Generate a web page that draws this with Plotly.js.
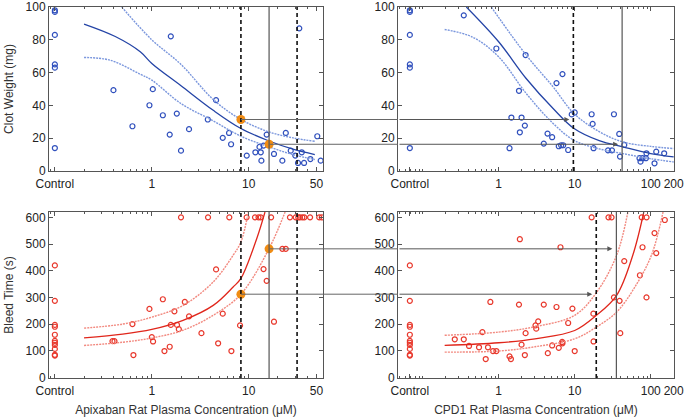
<!DOCTYPE html>
<html><head><meta charset="utf-8">
<script src="https://cdn.plot.ly/plotly-3.0.1.min.js"></script>
<style>html,body{margin:0;padding:0;background:#fff}#chart{width:685px;height:417px}</style>
</head><body><div id="chart"></div>
<script>
// ---------- data ----------
const apixCtrlX = 0.1;      // position of the "Control" group on the Apixaban axis
const cpdCtrlX = 0.068;     // position of the "Control" group on the CPD1 axis
const clotCtrl = [98, 97, 83, 65, 63, 14];
const bleedCtrl = [420, 287, 197, 190, 160, 137, 130, 122, 107, 85, 82];

const apixClotX = [0.402,0.631,0.945,1.024,1.30,1.57,1.53,1.81,2.00,2.42,3.78,4.60,5.39,6.26,6.57,9.53,11.7,12.9,13.3,13.5,14.2,15.3,18.2,22.2,24.1,27.1,30.2,32.2,33.2,35.2,37.2,43.2,50.9,55.2];
const apixClotY = [49.3,27.3,40.1,49.9,34,82.1,22.2,35,12.4,25.5,31.4,43.2,20.2,23.2,16.3,9.4,11.4,14.7,11.4,6.3,15.5,22.2,10.4,6.3,23.2,12.4,9.4,4.9,87,11.4,4.9,7.3,21.2,6.3];

const cpdClotX = [0.348,0.933,1.39,1.47,1.85,1.90,2.0,2.21,2.26,3.92,4.39,5.05,5.76,6.17,6.63,6.9,7.05,8.2,9.14,10.0,16.7,17.2,17.7,27.4,30.9,32.8,38.5,39.4,44.8,71.1,73.3,77.9,86.2,87.8,112,118,150];
const cpdClotY = [94.9,74.7,13.9,32.6,48.9,23.6,32.6,27.7,70.7,16.7,22.8,20.6,53.6,15.1,15.7,59.1,15.7,12.8,34.5,35.7,34.6,28.7,13.9,12.6,12.6,34.6,22.6,8.8,15.9,7.8,5.7,7.8,7.8,10.8,4.7,11.8,10.8];

const apixBleedX = [0.393,0.412,0.631,0.646,0.945,1.0,1.03,1.30,1.35,1.53,1.57,1.71,1.82,1.90,2.19,2.42,3.25,4.60,4.83,5.39,6.62,8.13,14.2,15.3,18.2,22.2,24.1,
  2.0,3.8,6.3,9.5,11.6,12.6,13.3,17.0,26.6,30.5,32.4,33.7,35.7,37.4,42.9,53.3,56.6];
const apixBleedY = [136,136,200,84,257,151,135,293,99,115,197,248,197,181,283,229,166,405,128,239,99,195,406,362,209,482,482,
  600,600,600,600,600,600,600,600,600,600,600,600,600,600,600,600,600];

const cpdBleedX = [0.265,0.348,0.408,0.552,0.611,0.676,0.724,0.778,0.842,0.933,1.39,1.45,1.85,1.90,2.0,2.21,2.26,3.05,3.12,3.31,3.92,4.43,5.05,5.76,6.17,6.5,6.84,6.9,8.2,9.33,10.0,16.7,17.6,17.7,27.8,30.5,32.8,38.9,39.7,44.8,72,76,77.9,87.8,88,112,118,153];
const cpdBleedY = [143,143,118,113,170,69,113,283,99,99,79,69,273,518,123,84,166,195,183,210,273,91,120,264,111,488,133,128,204,258,99,600,239,135,600,600,300,287,166,436,383,600,488,300,600,541,466,590];

// fitted curves
const apixClotFitX = [0.2,0.42,0.76,1,2,4.3,8.3,16.2,28.6,48];
const apixClotFit  = [89.6,82,72.7,65.6,52,37,25.9,18.3,13.3,10];
const apixClotUpX  = [0.49,1,2,4.3,8.3,16.2,28.6,48];
const apixClotUp   = [100,80,65,43.6,31.4,23.8,20.2,18.1];
const apixClotLoX  = [0.2,0.37,0.76,1,2,4.3,8.3,16.2,28.6,48];
const apixClotLo   = [69.2,67.6,59,55.4,41.1,30.6,21.2,14.7,10,7];

const cpdClotFitX = [0.376,1,2.3,5.2,9.8,21,43,100,200];
const cpdClotFit  = [100,78.8,56.4,38.1,25.9,18.5,14.7,10.6,8.6];
const cpdClotUpX  = [0.8,2.3,5.2,9.8,21,43,100,200];
const cpdClotUp   = [100,70.7,51.3,35,24,17.7,15,13.7];
const cpdClotLoX  = [0.195,0.46,1,2.3,5.2,9.8,21,43,100,200];
const cpdClotLo   = [86.3,81.5,69.6,47.3,29,18.7,13.5,10.6,7.5,5.5];

const apixBleedFitX = [0.2,0.5,1,2.1,4.3,6.9,8.3,12.1,14.7];
const apixBleedFit  = [148,162,180,214,270,339,371,521,620];
const apixBleedUpX  = [0.2,0.5,1,2.1,4.3,6.9,8.3,9.9];
const apixBleedUp   = [185,200,226,270,358,458,508,620];
const apixBleedLoX  = [0.2,0.5,1,2.1,4.3,8.3,16.2,23.7];
const apixBleedLo   = [120,132,148,177,233,312,483,620];

const cpdBleedFitX = [0.195,1,3,10,19.3,35.6,58,81];
const cpdBleedFit  = [120,130,145,176,233,308,458,620];
const cpdBleedUpX  = [0.195,1,3,10,19.3,35.6,50];
const cpdBleedUp   = [158,170,190,233,318,458,620];
const cpdBleedLoX  = [0.195,1,3,10,19.3,35.6,60,102,145];
const cpdBleedLo   = [95,99,115,145,189,245,333,458,620];

// thresholds and read-across levels
const apixDash = [8.3, 31.5];
const apixSolid = 16.2;
const cpdClotDash = 9.6, cpdClotSolid = 42;
const cpdBleedDash = 19.2, cpdBleedSolid = 35.3;
const clotLevels = [31.4, 16.3];     // at apixaban 8.3 and 16.2
const bleedLevels = [312, 482];      // at apixaban 8.3 and 16.2
const apixDotX = [8.3, 16.2];
const cpdClotTips = [cpdClotDash, cpdClotSolid];
const cpdBleedTips = [cpdBleedDash, cpdBleedSolid];

const apixTicks = [apixCtrlX, 1, 10, 50], apixTickText = ['Control','1','10','50'];
const cpdTicks = [cpdCtrlX, 1, 10, 100, 200], cpdTickText = ['Control','1','10','100','200'];
const clotTicks = [0,20,40,60,80,100];
const bleedTicks = [0,100,200,300,400,500,600];

// ---------- styling ----------
const FONT = 'Liberation Sans, Arial, sans-serif';
const BLUE = '#3050bd', BLUE_D = '#2444a6', BLUE_L = '#7b97dd';
const RED = '#e8382c', RED_D = '#e0261b', RED_L = '#f28a80';
const ORANGE = '#f08c14';
const apixRange = [Math.log10(0.087), Math.log10(58.3)];
const cpdRange = [Math.log10(0.0475), Math.log10(202)];
const clotRange = [0, 100], bleedRange = [-2, 620];

function minorVals(lo, hi){ const v=[]; for(let e=lo;e<=hi;e++){for(let m=1;m<10;m++){v.push(m*Math.pow(10,e));}} return v; }

const baseAx = {
  showline:true, linecolor:'#555', linewidth:1, mirror:'ticks', ticks:'inside', ticklen:4, tickwidth:1,
  tickcolor:'#555', showgrid:false, zeroline:false, automargin:false,
  tickfont:{family:FONT, size:12, color:'#222'}
};
function xAx(domain, anchor, range, tv, tt, title){
  return Object.assign({}, baseAx, {
    type:'log', domain, anchor, range, tickmode:'array', tickvals:tv, ticktext:tt, ticklabelstandoff:2,
    minor:{ticks:'inside', ticklen:2, tickcolor:'#555', tickmode:'array', tickvals:minorVals(-2,2)},
    title: title ? {text:title, font:{family:FONT, size:12, color:'#333'}, standoff:9} : undefined
  });
}
function yAx(domain, anchor, range, tv, title){
  return Object.assign({}, baseAx, {
    domain, anchor, range, tickmode:'array', tickvals:tv,
    title: title ? {text:title, font:{family:FONT, size:12, color:'#333'}, standoff:9} : undefined
  });
}

const dX1=[49/685, 323/685], dX2=[398/685, 674/685];
const dYt=[1-171/417, 1-7/417], dYb=[1-378/417, 1-212/417];

const traces = [];
function ctrl(n, xv){ return Array(n).fill(xv); }
function pts(x, y, xa, ya, col){ return {x, y, xaxis:xa, yaxis:ya, type:'scatter', mode:'markers', marker:{symbol:'circle-open', size:5, color:col, line:{width:1.2, color:col}}, hoverinfo:'skip'}; }
function curve(x, y, xa, ya, col, dash, w){ return {x, y, xaxis:xa, yaxis:ya, type:'scatter', mode:'lines', line:{color:col, width:w, dash, shape:'spline', smoothing:1}, hoverinfo:'skip'}; }
const CI_DASH = '2px,1px';

// top-left
traces.push(pts(ctrl(clotCtrl.length, apixCtrlX), clotCtrl, 'x','y', BLUE));
traces.push(pts(apixClotX, apixClotY, 'x','y', BLUE));
traces.push(curve(apixClotUpX, apixClotUp, 'x','y', BLUE_L, CI_DASH, 1.4));
traces.push(curve(apixClotLoX, apixClotLo, 'x','y', BLUE_L, CI_DASH, 1.4));
traces.push(curve(apixClotFitX, apixClotFit, 'x','y', BLUE_D, 'solid', 1.3));
// top-right
traces.push(pts(ctrl(clotCtrl.length, cpdCtrlX), clotCtrl, 'x2','y2', BLUE));
traces.push(pts(cpdClotX, cpdClotY, 'x2','y2', BLUE));
traces.push(curve(cpdClotUpX, cpdClotUp, 'x2','y2', BLUE_L, CI_DASH, 1.4));
traces.push(curve(cpdClotLoX, cpdClotLo, 'x2','y2', BLUE_L, CI_DASH, 1.4));
traces.push(curve(cpdClotFitX, cpdClotFit, 'x2','y2', BLUE_D, 'solid', 1.3));
// bottom-left
traces.push(pts(ctrl(bleedCtrl.length, apixCtrlX), bleedCtrl, 'x3','y3', RED));
traces.push(pts(apixBleedX, apixBleedY, 'x3','y3', RED));
traces.push(curve(apixBleedUpX, apixBleedUp, 'x3','y3', RED_L, CI_DASH, 1.4));
traces.push(curve(apixBleedLoX, apixBleedLo, 'x3','y3', RED_L, CI_DASH, 1.4));
traces.push(curve(apixBleedFitX, apixBleedFit, 'x3','y3', RED_D, 'solid', 1.3));
// bottom-right
traces.push(pts(ctrl(bleedCtrl.length, cpdCtrlX), bleedCtrl, 'x4','y4', RED));
traces.push(pts(cpdBleedX, cpdBleedY, 'x4','y4', RED));
traces.push(curve(cpdBleedUpX, cpdBleedUp, 'x4','y4', RED_L, CI_DASH, 1.4));
traces.push(curve(cpdBleedLoX, cpdBleedLo, 'x4','y4', RED_L, CI_DASH, 1.4));
traces.push(curve(cpdBleedFitX, cpdBleedFit, 'x4','y4', RED_D, 'solid', 1.3));
// orange read-off dots
const dot = {symbol:'circle', size:9, color:ORANGE};
traces.push({x:apixDotX, y:clotLevels, xaxis:'x', yaxis:'y', type:'scatter', mode:'markers', marker:dot, hoverinfo:'skip', cliponaxis:false});
traces.push({x:apixDotX, y:bleedLevels, xaxis:'x3', yaxis:'y3', type:'scatter', mode:'markers', marker:dot, hoverinfo:'skip', cliponaxis:false});

// ---------- shapes ----------
const shapes = [];
const DASH = '4px,3px';
function vline(xv, xa, ya, yr, dash, color, w){
  shapes.push({type:'line', xref:xa, yref:ya, x0:xv, x1:xv, y0:yr[0], y1:yr[1], line:{color, width:w, dash}, layer:'above'});
}
apixDash.forEach(v => { vline(v,'x','y',clotRange,DASH,'#111',1.6); vline(v,'x3','y3',bleedRange,DASH,'#111',1.6); });
vline(apixSolid,'x','y',clotRange,'solid','#555',1.2);
vline(apixSolid,'x3','y3',bleedRange,'solid','#555',1.2);
vline(cpdClotDash,'x2','y2',clotRange,DASH,'#111',1.6);
vline(cpdClotSolid,'x2','y2',clotRange,'solid','#555',1.2);
vline(cpdBleedDash,'x4','y4',bleedRange,DASH,'#111',1.6);
vline(cpdBleedSolid,'x4','y4',bleedRange,'solid','#555',1.2);

const annotations = [];
const HL = {color:'#666', width:1};
function readAcross(xStart, level, xa, ya, xb, yb, xbRange, xaRange, domA, domB, tip){
  shapes.push({type:'line', xref:xa, yref:ya, x0:xStart, x1:Math.pow(10, xaRange[1]), y0:level, y1:level, line:HL, layer:'above'});
  shapes.push({type:'line', xref:'paper', yref:ya, x0:domA[1], x1:domB[0], y0:level, y1:level, line:HL, layer:'above'});
  annotations.push({xref:xb, yref:yb, axref:xb, ayref:yb, x:Math.log10(tip), y:level, ax:xbRange[0], ay:level,
    text:'', showarrow:true, arrowhead:2, arrowsize:1, arrowwidth:1, arrowcolor:'#555', standoff:4});
}
readAcross(apixDotX[0], clotLevels[0], 'x','y','x2','y2', cpdRange, apixRange, dX1, dX2, cpdClotTips[0]);
readAcross(apixDotX[1], clotLevels[1], 'x','y','x2','y2', cpdRange, apixRange, dX1, dX2, cpdClotTips[1]);
readAcross(apixDotX[0], bleedLevels[0], 'x3','y3','x4','y4', cpdRange, apixRange, dX1, dX2, cpdBleedTips[0]);
readAcross(apixDotX[1], bleedLevels[1], 'x3','y3','x4','y4', cpdRange, apixRange, dX1, dX2, cpdBleedTips[1]);

const layout = {
  width:685, height:417, margin:{l:0, r:0, t:0, b:0}, showlegend:false,
  paper_bgcolor:'#fff', plot_bgcolor:'#fff', font:{family:FONT, size:12, color:'#222'},
  xaxis: xAx(dX1,'y', apixRange, apixTicks, apixTickText),
  yaxis: yAx(dYt,'x', clotRange, clotTicks, 'Clot Weight (mg)'),
  xaxis2: xAx(dX2,'y2', cpdRange, cpdTicks, cpdTickText),
  yaxis2: yAx(dYt,'x2', clotRange, clotTicks),
  xaxis3: xAx(dX1,'y3', apixRange, apixTicks, apixTickText, 'Apixaban Rat Plasma Concentration (μM)'),
  yaxis3: yAx(dYb,'x3', bleedRange, bleedTicks, 'Bleed Time (s)'),
  xaxis4: xAx(dX2,'y4', cpdRange, cpdTicks, cpdTickText, 'CPD1 Rat Plasma Concentration (μM)'),
  yaxis4: yAx(dYb,'x4', bleedRange, bleedTicks),
  shapes, annotations
};
Plotly.newPlot('chart', traces, layout, {displayModeBar:false, staticPlot:true});
</script></body></html>
